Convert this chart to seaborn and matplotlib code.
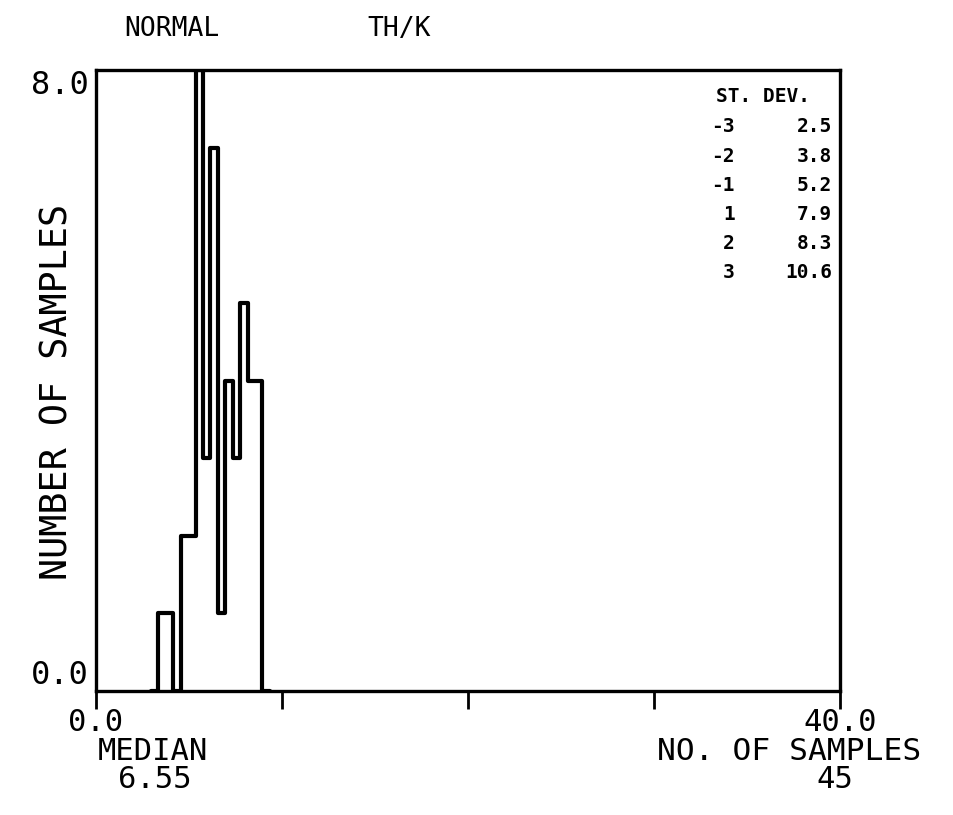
import numpy as np
import pandas as pd
import matplotlib
matplotlib.use("Agg")
import matplotlib.pyplot as plt
import seaborn as sns

# Th/K ratio classes (0.4 wide) and number of samples per class
bin_edges = [2.95, 3.35, 3.75, 4.15, 4.55, 4.95, 5.35, 5.75, 6.15, 6.55,
             6.95, 7.35, 7.75, 8.15, 8.55, 8.95, 9.35]
counts = [0, 1, 1, 0, 2, 2, 8, 3, 7, 1, 4, 3, 5, 4, 4, 0]

# Summary statistics printed with the histogram
distribution = "NORMAL"
variable = "TH/K"
median = "6.55"
sd_steps = ["-3", "-2", "-1", "1", "2", "3"]
sd_values = ["2.5", "3.8", "5.2", "7.9", "8.3", "10.6"]
x_ticks = [0, 10, 20, 30, 40]
x_ticklabels = ["0.0", "", "", "", "40.0"]
y_ticks = [0, 8]
y_ticklabels = ["0.0", "8.0"]

edges = np.asarray(bin_edges)
df = pd.DataFrame({"th_k": (edges[:-1] + edges[1:]) / 2, "n": counts})
n_samples = int(df["n"].sum())

sns.set_theme(style="white")
plt.rcParams["font.family"] = ["DejaVu Sans Mono", "DejaVu Sans"]
plt.rcParams["text.color"] = "black"
plt.rcParams["xtick.color"] = "black"
plt.rcParams["ytick.color"] = "black"

W, H = 954, 815
fig = plt.figure(figsize=(W / 100, H / 100), dpi=100)
ax = fig.add_axes([96 / W, 1 - 691 / H, (840 - 96) / W, (691 - 70) / H])

sns.histplot(data=df, x="th_k", weights="n", bins=bin_edges,
             element="step", fill=False, color="black", linewidth=3.0, ax=ax)

ax.set_xlim(x_ticks[0], x_ticks[-1])
ax.set_ylim(y_ticks[0], y_ticks[-1])
ax.set_xlabel("")
ax.set_ylabel("")
for sp in ax.spines.values():
    sp.set_color("black")
    sp.set_linewidth(2.4)

ax.set_xticks(x_ticks)
ax.set_xticklabels(x_ticklabels, fontsize=22, color="black")
ax.tick_params(axis="x", direction="out", length=13, width=2.0,
               color="black", pad=-1, bottom=True)
ax.set_yticks(y_ticks)
ax.set_yticklabels(y_ticklabels, fontsize=23, color="black")
ax.tick_params(axis="y", length=0, pad=5, left=True)
ylabs = ax.get_yticklabels()
ylabs[0].set_va("bottom")
ylabs[1].set_va("top")


def px(x, y):
    return x / W, 1 - y / H


# titles above the frame
fig.text(*px(124, 29), distribution, fontsize=19, ha="left", va="center")
fig.text(*px(399, 29), variable, fontsize=19, ha="center", va="center")

# axis caption
fig.text(*px(57, 392), "NUMBER OF SAMPLES", fontsize=26.5, rotation=90,
         ha="center", va="center")

# median and sample count below the axis
fig.text(*px(98, 751), "MEDIAN", fontsize=22, ha="left", va="center")
fig.text(*px(155, 780), median, fontsize=22, ha="center", va="center")
fig.text(*px(921, 751), "NO. OF SAMPLES", fontsize=22.5, ha="right", va="center")
fig.text(*px(835, 780), str(n_samples), fontsize=22, ha="center", va="center")

# standard deviation table
fig.text(*px(716, 97), "ST. DEV.", fontsize=14, fontweight="bold",
         ha="left", va="center")
for i, (k, v) in enumerate(zip(sd_steps, sd_values)):
    yy = 127 + i * 29.2
    fig.text(*px(735, yy), k, fontsize=14, fontweight="bold",
             ha="right", va="center")
    fig.text(*px(832, yy), v, fontsize=14, fontweight="bold",
             ha="right", va="center")

fig.savefig("out.png", dpi=100, facecolor="white")
